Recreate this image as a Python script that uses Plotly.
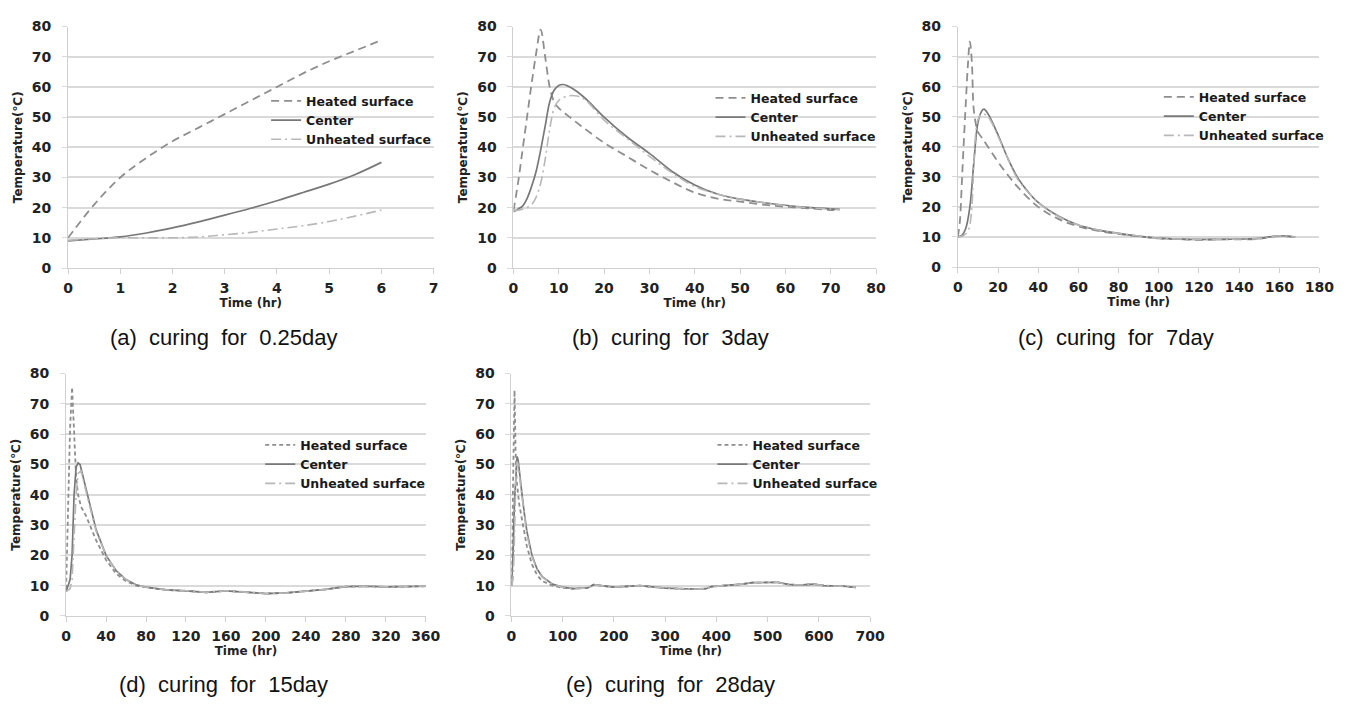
import plotly.graph_objects as go

# ---------------- data ----------------
# (a) curing for 0.25day
a_heated_t = [0, 0.5, 1, 1.5, 2, 2.5, 3, 3.5, 4, 4.5, 5, 5.5, 6]
a_heated = [10, 21, 30, 36.5, 42, 46.5, 51, 55.5, 60, 64.5, 68.5, 72, 75.5]
a_center_t = [0, 0.5, 1, 1.5, 2, 2.5, 3, 3.5, 4, 4.5, 5, 5.5, 6]
a_center = [9, 9.6, 10.3, 11.6, 13.3, 15.3, 17.5, 19.8, 22.3, 25, 27.8, 31, 35]
a_unheated_t = [0, 0.5, 1, 1.5, 2, 2.5, 3, 3.5, 4, 4.5, 5, 5.5, 6]
a_unheated = [9.2, 9.7, 10, 10, 10, 10.3, 11, 11.8, 12.9, 14, 15.4, 17.2, 19.2]

# (b) curing for 3day
b_heated_t = [0, 1, 2, 3, 4, 5, 6, 7, 8, 9, 10, 12, 15, 20, 25, 30, 35, 40, 45, 50, 55, 60, 65, 70, 72]
b_heated = [19, 28, 39, 50, 61, 71, 79, 70, 60, 55, 53, 50.5, 47, 41.5, 37, 32.5, 28.5, 25, 23, 22, 21, 20.3, 19.8, 19.2, 19.3]
b_center_t = [0, 1, 2, 3, 4, 5, 6, 7, 8, 9, 10, 11, 12, 14, 16, 20, 25, 30, 35, 40, 45, 50, 55, 60, 65, 70, 72]
b_center = [18.6, 19.5, 20.5, 23, 27, 32, 39, 47, 55, 59, 60.5, 60.8, 60.3, 58.5, 56, 50, 43.5, 38, 32, 27.5, 24.5, 22.8, 21.7, 20.8, 20.1, 19.6, 19.4]
b_unheated_t = [0, 2, 4, 5, 6, 7, 8, 9, 10, 12, 14, 16, 20, 25, 30, 35, 40, 45, 50, 55, 60, 65, 70, 72]
b_unheated = [19, 19.5, 21, 23.5, 28, 36, 46, 53, 55.5, 57, 57, 55.5, 49, 43, 37, 31.5, 27, 24.5, 22.8, 21.7, 20.7, 20, 19.5, 19.3]

# (c) curing for 7day
c_heated_t = [0, 1, 2, 3, 4, 5, 6, 7, 8, 10, 12, 15, 20, 25, 30, 40, 50, 60, 70, 80, 90, 100, 110, 120, 130, 140, 150, 155, 160, 168]
c_heated = [10, 15, 28, 42, 55, 67, 75, 68, 52, 45, 43, 40, 35, 30.5, 26.5, 20, 16, 13.5, 12, 11, 10.2, 9.5, 9.3, 9.0, 9.2, 9.2, 9.4, 10, 10.3, 10]
c_center_t = [0, 2, 4, 6, 8, 10, 12, 13, 15, 20, 25, 30, 35, 40, 50, 60, 70, 80, 90, 100, 110, 120, 130, 140, 150, 155, 160, 168]
c_center = [10, 10.5, 13, 20, 35, 48, 52, 52.5, 51, 44, 36, 29.5, 25, 21.5, 17, 14, 12.3, 11.2, 10.3, 9.6, 9.3, 9.2, 9.2, 9.3, 9.5, 10, 10.4, 10]
c_unheated_t = [0, 3, 5, 6, 7, 8, 9, 10, 12, 15, 20, 25, 30, 40, 50, 60, 70, 80, 90, 100, 110, 120, 130, 140, 150, 155, 160, 168]
c_unheated = [10, 10.5, 12, 14, 20, 35, 45, 49, 51, 50, 43.5, 36, 29, 21.5, 16.8, 14, 12.3, 11.2, 10.3, 9.6, 9.3, 9.2, 9.2, 9.3, 9.5, 10, 10.4, 10]

# (d) curing for 15day
d_heated_t = [0, 2, 4, 6, 8, 10, 12, 15, 20, 30, 40, 50, 60, 70, 80, 100, 120, 140, 160, 180, 200, 220, 240, 260, 280, 300, 320, 340, 360]
d_heated = [9, 35, 62, 75.5, 58, 46, 40, 36, 33, 25, 18.5, 14, 11.5, 10, 9.5, 8.6, 8.3, 7.8, 8.3, 7.8, 7.4, 7.6, 8.2, 8.8, 9.7, 9.8, 9.6, 9.8, 9.8]
d_center_t = [0, 4, 6, 8, 10, 12, 14, 20, 25, 30, 40, 50, 60, 70, 80, 100, 120, 140, 160, 180, 200, 220, 240, 260, 280, 300, 320, 340, 360]
d_center = [8, 12, 20, 40, 49, 50.5, 50, 42, 35, 28.5, 20, 15, 12, 10.3, 9.5, 8.6, 8.3, 7.8, 8.3, 7.8, 7.4, 7.6, 8.2, 8.8, 9.7, 9.8, 9.6, 9.8, 9.8]
d_unheated_t = [0, 4, 6, 8, 10, 12, 15, 20, 30, 40, 50, 60, 70, 80, 100, 120, 140, 160, 180, 200, 220, 240, 260, 280, 300, 320, 340, 360]
d_unheated = [8, 9, 12, 25, 40, 47, 48, 41, 28, 20, 15, 12, 10.3, 9.5, 8.6, 8.3, 7.8, 8.3, 7.8, 7.4, 7.6, 8.2, 8.8, 9.7, 9.8, 9.6, 9.8, 9.8]

# (e) curing for 28day
e_heated_t = [0, 2, 4, 6, 8, 10, 15, 20, 30, 40, 50, 60, 80, 100, 120, 140, 150, 160, 180, 200, 250, 300, 350, 380, 390, 400, 450, 470, 500, 520, 540, 560, 590, 610, 650, 672]
e_heated = [10, 35, 60, 74.5, 55, 45, 37, 32, 23, 17, 13.5, 11.5, 10, 9.3, 9, 9.2, 9.3, 10.3, 9.8, 9.5, 10, 9.2, 8.9, 9, 9.7, 9.8, 10.5, 11, 11.2, 11.1, 10.4, 10.2, 10.5, 10, 9.8, 9.4]
e_center_t = [0, 3, 6, 9, 11, 13, 15, 20, 25, 30, 40, 50, 60, 80, 100, 120, 140, 150, 160, 180, 200, 250, 300, 350, 380, 390, 400, 450, 470, 500, 520, 540, 560, 590, 610, 650, 672]
e_center = [10, 20, 38, 50, 52.6, 51.5, 48, 41, 34, 28, 20, 15.5, 13, 10.5, 9.5, 9, 9.2, 9.3, 10.3, 9.8, 9.5, 10, 9.2, 8.9, 9, 9.7, 9.8, 10.5, 11, 11.2, 11.1, 10.4, 10.2, 10.5, 10, 9.8, 9.4]
e_unheated_t = [0, 3, 5, 7, 9, 11, 13, 15, 20, 30, 40, 50, 60, 80, 100, 120, 140, 150, 160, 180, 200, 250, 300, 350, 380, 390, 400, 450, 470, 500, 520, 540, 560, 590, 610, 650, 672]
e_unheated = [10, 12, 20, 38, 48, 51, 50, 47, 40, 27, 19.5, 15.2, 12.8, 10.5, 9.5, 9, 9.2, 9.3, 10.3, 9.8, 9.5, 10, 9.2, 8.9, 9, 9.7, 9.8, 10.5, 11, 11.2, 11.1, 10.4, 10.2, 10.5, 10, 9.8, 9.4]

series_names = ["Heated surface", "Center", "Unheated surface"]
SP = "\u00a0\u00a0"
captions = [f"(a){SP}curing{SP}for{SP}0.25day",
            f"(b){SP}curing{SP}for{SP}3day",
            f"(c){SP}curing{SP}for{SP}7day",
            f"(d){SP}curing{SP}for{SP}15day",
            f"(e){SP}curing{SP}for{SP}28day"]
x_max = [7, 80, 180, 360, 700]
x_dtick = [1, 10, 20, 40, 100]
y_ticks = [0, 10, 20, 30, 40, 50, 60, 70, 80]

panels = [
    (a_heated_t, a_heated, a_center_t, a_center, a_unheated_t, a_unheated),
    (b_heated_t, b_heated, b_center_t, b_center, b_unheated_t, b_unheated),
    (c_heated_t, c_heated, c_center_t, c_center, c_unheated_t, c_unheated),
    (d_heated_t, d_heated, d_center_t, d_center, d_unheated_t, d_unheated),
    (e_heated_t, e_heated, e_center_t, e_center, e_unheated_t, e_unheated),
]

# ---------------- layout geometry (pixels) ----------------
W, H = 1364, 709
def fx(px):
    return px / W
def fy(py):
    return 1 - py / H

boxes = [(64, 435, 19, 266), (516, 884, 19, 266), (967, 1334, 19, 265),
         (62, 427, 374, 622), (514, 878, 374, 622)]
legend_pos = [(305, 91), (756, 88), (1211, 87), (299, 443), (758, 443)]
caption_pos = [(222, 337), (675, 337), (1128, 337), (222, 692), (675, 692)]

TICK_FONT = dict(family="DejaVu Sans", size=14, color="#222222", weight="bold")
TITLE_FONT = dict(family="DejaVu Sans", size=12, color="#222222", weight="bold")
LEG_FONT = dict(family="DejaVu Sans", size=12.5, color="#1a1a1a", weight="bold")

fig = go.Figure()

styles = [
    dict(color="#8e8e8e", width=1.8, dash="8px,5px"),
    dict(color="#787878", width=1.7, dash="solid"),
    dict(color="#b8b8b8", width=1.6, dash="10px,4px,2px,4px"),
]
styles_short = [
    dict(color="#8e8e8e", width=1.8, dash="4px,3px"),
    dict(color="#787878", width=1.7, dash="solid"),
    dict(color="#b8b8b8", width=1.6, dash="10px,4px,2px,4px"),
]

for i, p in enumerate(panels):
    k = i + 1
    xa = "x" if k == 1 else f"x{k}"
    ya = "y" if k == 1 else f"y{k}"
    leg = "legend" if k == 1 else f"legend{k}"
    st = styles if k <= 3 else styles_short
    shape = "spline" if k <= 3 else "linear"
    for j in range(3):
        fig.add_trace(go.Scatter(
            x=p[2 * j], y=p[2 * j + 1], mode="lines", name=series_names[j],
            line=dict(shape=shape, **st[j]), xaxis=xa, yaxis=ya, legend=leg,
            showlegend=True, hoverinfo="skip"))

layout = dict(
    width=W, height=H, margin=dict(l=0, r=0, t=0, b=0),
    paper_bgcolor="white", plot_bgcolor="white", showlegend=True,
)
annotations = []
for i in range(5):
    k = i + 1
    x0, x1, y0, y1 = boxes[i]
    xkey = "xaxis" if k == 1 else f"xaxis{k}"
    ykey = "yaxis" if k == 1 else f"yaxis{k}"
    xa = "x" if k == 1 else f"x{k}"
    ya = "y" if k == 1 else f"y{k}"
    layout[xkey] = dict(
        domain=[fx(x0), fx(x1)], anchor=ya, range=[0, x_max[i]], dtick=x_dtick[i], tick0=0,
        showgrid=False, zeroline=False, showline=True, linecolor="#d0d0d0", linewidth=1,
        ticks="outside", ticklen=5, tickcolor="#d0d0d0", tickfont=TICK_FONT,
        ticklabelstandoff=2,
        title=dict(text="Time (hr)", font=TITLE_FONT, standoff=3),
    )
    layout[ykey] = dict(
        domain=[fy(y1), fy(y0)], anchor=xa, range=[0, 80], tickvals=y_ticks,
        showgrid=True, gridcolor="#dadada", gridwidth=1.5, zeroline=False,
        showline=True, linecolor="#d0d0d0", linewidth=1,
        ticks="outside", ticklen=5, tickcolor="#dadada", tickfont=TICK_FONT,
        ticklabelstandoff=8,
        title=dict(text="Temperature(\u2103)", font=TITLE_FONT, standoff=6),
    )
    lx, ly = legend_pos[i]
    lkey = "legend" if k == 1 else f"legend{k}"
    layout[lkey] = dict(
        x=fx(lx - 40), y=fy(ly - 11), xanchor="left", yanchor="top",
        xref="paper", yref="paper", bgcolor="rgba(0,0,0,0)", borderwidth=0,
        font=LEG_FONT, itemwidth=30, tracegroupgap=0,
    )
    cx, cy = caption_pos[i]
    annotations.append(dict(
        text=captions[i], x=fx(cx), y=fy(cy), xref="paper", yref="paper",
        xanchor="center", yanchor="middle", showarrow=False,
        font=dict(family="Liberation Sans", size=22, color="#111111"),
    ))
layout["annotations"] = annotations
fig.update_layout(**layout)

fig.write_html("out.html")
